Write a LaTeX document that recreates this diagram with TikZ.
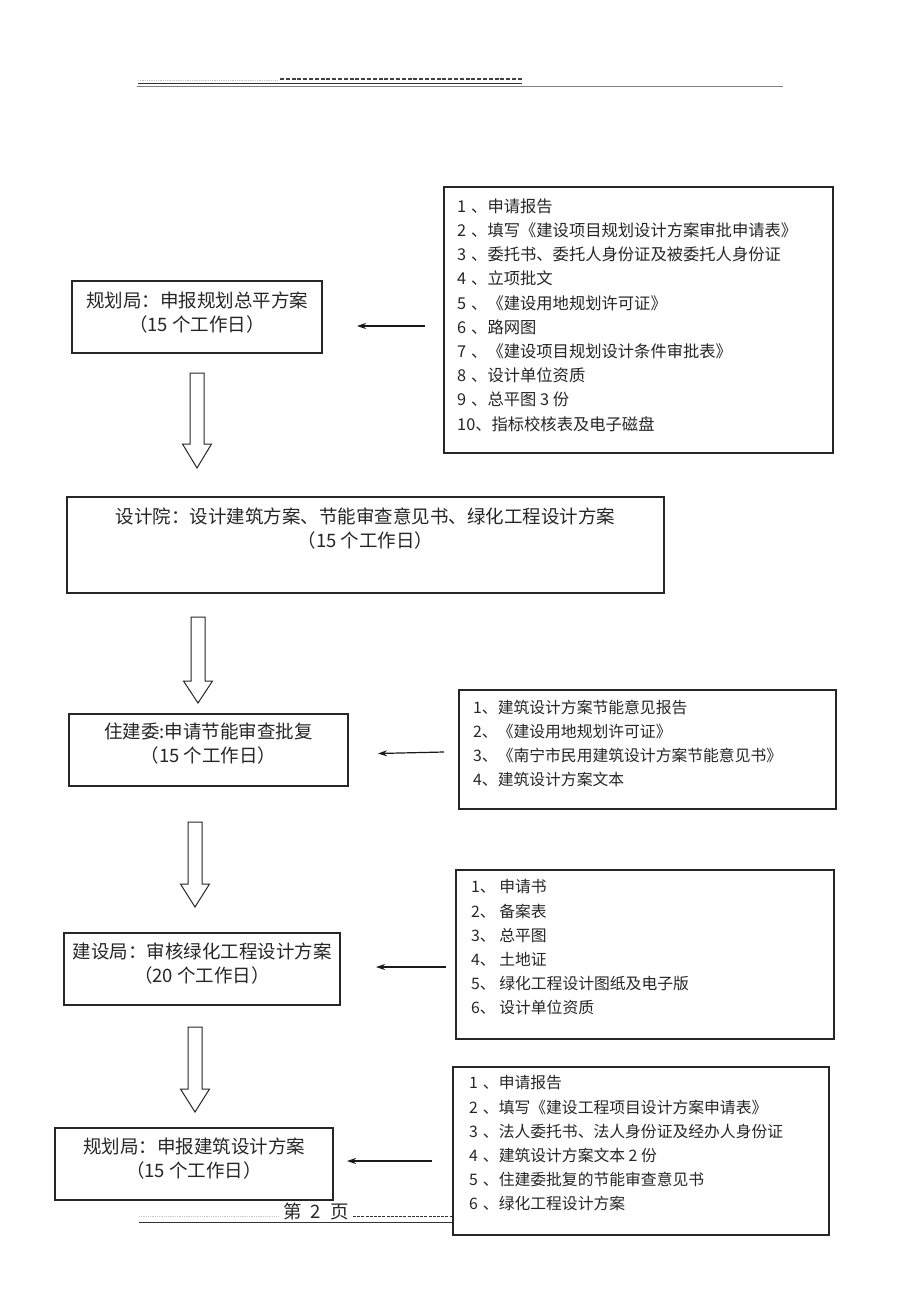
\documentclass[tikz,border=0pt]{standalone}
\usepackage{fontspec}
\setmainfont{Noto Sans CJK SC}
\usetikzlibrary{arrows.meta}
\newcommand{\hollowarr}[4]{\draw[hollowstyle] ({#1-7},#2) -- ({#1+7},#2) -- ({#1+7},#3) -- ({#1+14.5},#3) -- (#1,#4) -- ({#1-14.5},#3) -- ({#1-7},#3) -- cycle;}
\newcommand{\nsp}{\hspace{5pt}}
\tikzset{
  boxstyle/.style={draw=black!85, line width=1.1pt, fill=white, inner sep=0pt},
  ttl/.style={font=\fontsize{18.5}{24}\selectfont, align=center, inner sep=0pt, text=black!85},
  lst/.style={font=\fontsize{15.8}{24.2}\selectfont, align=left, inner sep=0pt, anchor=north west, text=black!85},
  lstbig/.style={lst, font=\fontsize{16.3}{24.2}\selectfont},
  thinarrow/.style={draw=black!90, line width=1.2pt, -{Stealth[length=9pt,width=6pt]}},
  hollowstyle/.style={draw=black!85, line width=1pt, fill=white},
}
\begin{document}
\begin{tikzpicture}[x=1pt,y=-1pt]
\useasboundingbox[fill=white] (0,0) rectangle (920,1302);
% header
\draw[gray!45, line width=0.8pt, dash pattern=on 1pt off 0.8pt] (138,80) -- (278,80);
\draw[black!75, line width=1.5pt, dash pattern=on 4pt off 1.8pt] (280,79) -- (522,79);
\draw[black!80, line width=1pt] (138,83.5) -- (522,83.5);
\draw[gray, line width=0.7pt] (137,86) -- (783,86);

% box 1
\node[boxstyle, minimum width=389pt, minimum height=266pt] (L1) at (638.5,320) {};
\node[lstbig] (L1t) at (457,198.5) {%
1\nsp、申请报告\\
2\nsp、填写《建设项目规划设计方案审批申请表》\\
3\nsp、委托书、委托人身份证及被委托人身份证\\
4\nsp、立项批文\\
5\nsp、《建设用地规划许可证》\\
6\nsp、路网图\\
7\nsp、《建设项目规划设计条件审批表》\\
8\nsp、设计单位资质\\
9\nsp、总平图 3 份\\
10、指标校核表及电子磁盘};

\node[boxstyle, minimum width=250pt, minimum height=72pt] (A) at (197,317) {};
\node[ttl] (At) at (197,313) {规划局：申报规划总平方案\\（15 个工作日）};
\coordinate (a1s) at (425,326);
\coordinate (a1e) at (357,326);
\draw[thinarrow] (a1s) -- (a1e);

\hollowarr{197}{373}{444}{468}

\node[boxstyle, minimum width=597pt, minimum height=96pt] (B) at (365.5,545) {};
\node[ttl] (Bt) at (365.5,528.5) {设计院：设计建筑方案、节能审查意见书、绿化工程设计方案\\（15 个工作日）};

\hollowarr{198}{617}{681}{703}

\node[boxstyle, minimum width=279pt, minimum height=72pt] (C) at (208.5,750) {};
\node[ttl] (Ct) at (208.5,744) {住建委:申请节能审查批复\\（15 个工作日）};
\node[boxstyle, minimum width=377pt, minimum height=119pt] (L3) at (647.5,749.5) {};
\node[lst] (L3t) at (473,699.5) {%
1、建筑设计方案节能意见报告\\
2、《建设用地规划许可证》\\
3、《南宁市民用建筑设计方案节能意见书》\\
4、建筑设计方案文本};
\coordinate (a2s) at (444,752);
\coordinate (a2e) at (378,753.5);
\draw[thinarrow] (a2s) -- (a2e);

\hollowarr{195}{822}{884}{907}

\node[boxstyle, minimum width=276pt, minimum height=72pt] (D) at (202,969) {};
\node[ttl] (Dt) at (202,964) {建设局：审核绿化工程设计方案\\（20 个工作日）};
\node[boxstyle, minimum width=378pt, minimum height=169pt] (L4) at (645,954.5) {};
\node[lst] (L4t) at (471,879.5) {%
1、\ 申请书\\
2、\ 备案表\\
3、\ 总平图\\
4、\ 土地证\\
5、\ 绿化工程设计图纸及电子版\\
6、\ 设计单位资质};
\coordinate (a3s) at (446,967);
\coordinate (a3e) at (376,967);
\draw[thinarrow] (a3s) -- (a3e);

\hollowarr{195}{1027}{1089}{1112}

\node[boxstyle, minimum width=278pt, minimum height=72pt] (E) at (194,1164) {};
\node[ttl] (Et) at (194,1158.5) {规划局：申报建筑设计方案\\（15 个工作日）};
\coordinate (a4s) at (432,1161);
\coordinate (a4e) at (347,1161);
\draw[thinarrow] (a4s) -- (a4e);

% footer
\draw[gray!45, line width=0.8pt, dash pattern=on 1pt off 0.8pt] (139,1216) -- (279,1216);
\node[font=\fontsize{18.5}{20}\selectfont, inner sep=0pt, text=black!85] (pg) at (316,1211) {第\hspace{9pt}2\hspace{9pt}页};
\draw[black!80, line width=1.5pt, dash pattern=on 3pt off 1.2pt] (353,1216.5) -- (453,1216.5);
\draw[black!80, line width=0.9pt] (139,1222) -- (453,1222);

\node[boxstyle, minimum width=376pt, minimum height=168pt] (L5) at (641,1151) {};
\node[lst] (L5t) at (469,1075.5) {%
1\nsp、申请报告\\
2\nsp、填写《建设工程项目设计方案申请表》\\
3\nsp、法人委托书、法人身份证及经办人身份证\\
4\nsp、建筑设计方案文本 2 份\\
5\nsp、住建委批复的节能审查意见书\\
6\nsp、绿化工程设计方案};
\end{tikzpicture}
\end{document}
